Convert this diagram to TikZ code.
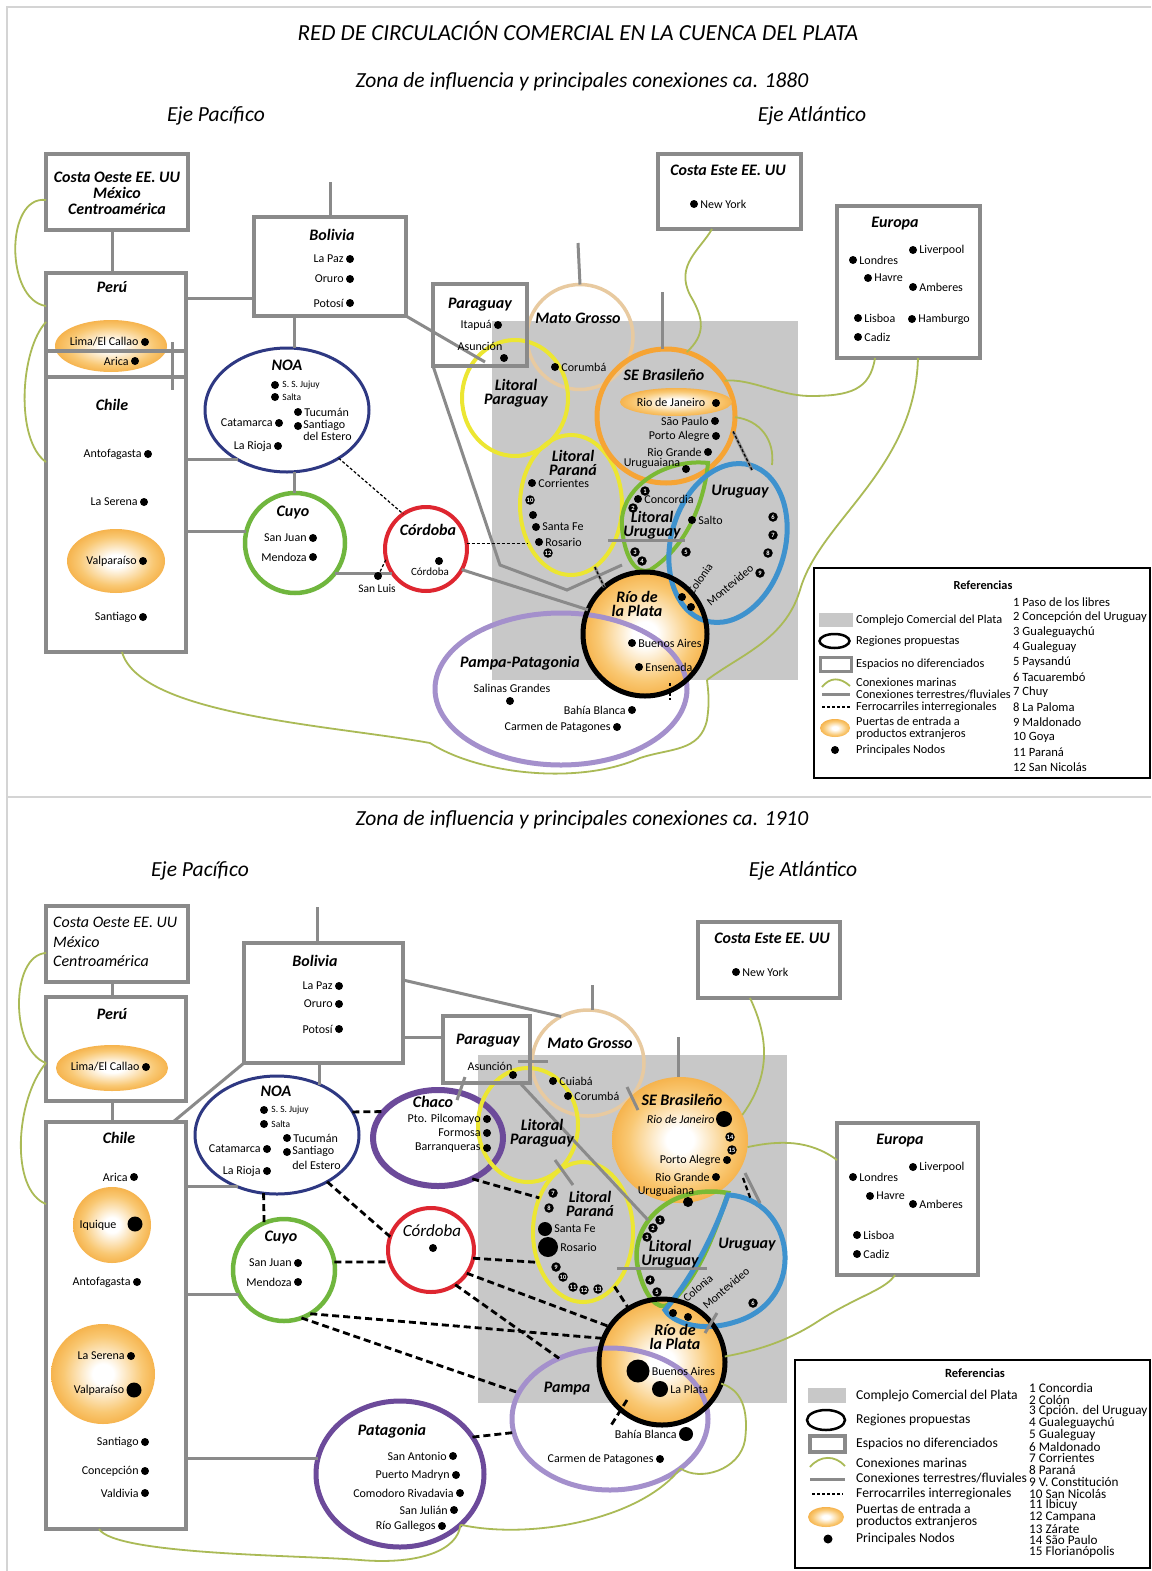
\documentclass[tikz,border=0pt]{standalone}
\usepackage{fontspec}
\setmainfont{Carlito}
\usetikzlibrary{shapes.geometric}
\newcommand{\myfs}[1]{\fontsize{#1}{#1}\selectfont}
\definecolor{boxgray}{RGB}{138,138,138}
\definecolor{cgray}{RGB}{200,200,200}
\definecolor{seagreen}{RGB}{170,186,86}
\definecolor{navy}{RGB}{46,56,130}
\definecolor{cuyog}{RGB}{112,182,62}
\definecolor{cred}{RGB}{222,38,48}
\definecolor{ylw}{RGB}{236,230,50}
\definecolor{tanc}{RGB}{232,202,160}
\definecolor{seor}{RGB}{246,164,52}
\definecolor{ublue}{RGB}{62,146,206}
\definecolor{lug}{RGB}{122,186,52}
\definecolor{lav}{RGB}{164,144,204}
\definecolor{purp}{RGB}{108,74,154}
\definecolor{gor}{RGB}{242,156,34}
\definecolor{gmid}{RGB}{249,200,115}
\definecolor{framec}{RGB}{212,212,212}
\pgfdeclareradialshading{gateshade}{\pgfpoint{0bp}{0bp}}{color(0bp)=(white); color(5bp)=(white); color(19bp)=(gmid); color(32bp)=(gor); color(50bp)=(gor)}
\tikzset{
  box/.style={draw=boxgray, line width=3.5pt, inner sep=0pt, outer sep=0pt},
  land/.style={draw=boxgray, line width=3pt},
  sea/.style={draw=seagreen, line width=1.8pt},
  rail/.style={draw=black, line width=1.2pt, dash pattern=on 3pt off 2pt},
  railb/.style={draw=black, line width=2.8pt, dash pattern=on 7pt off 4pt},
  region/.style={ellipse, inner sep=0pt, outer sep=0pt},
  gate/.style={region, shade, shading=gateshade},
  dot/.style={circle, fill=black, inner sep=0pt, minimum size=8pt},
  lbl/.style={inner sep=0pt, font=\myfs{12}},
  slbl/.style={inner sep=0pt, font=\myfs{9.5}},
  rt/.style={inner sep=0pt, align=center, font=\fontsize{16}{13.5}\selectfont\bfseries\itshape},
  badge/.style={circle, fill=black, text=white, inner sep=0pt, minimum size=9.5pt, font=\fontsize{6.5}{6.5}\selectfont\bfseries},
  ttl/.style={inner sep=0pt, font=\myfs{21.5}\itshape},
  leg/.style={inner sep=0pt, anchor=west, font=\myfs{12.3}},
  legb/.style={inner sep=0pt, anchor=west, font=\myfs{13.6}},
}
\newcommand{\dotL}[4][8]{\node[dot, minimum size=#1pt] (#2) at (#3) {};\node[lbl, anchor=east] (#2t) at ([xshift=-2pt]#2.west) {#4};}
\newcommand{\dotR}[4][8]{\node[dot, minimum size=#1pt] (#2) at (#3) {};\node[lbl, anchor=west] (#2t) at ([xshift=2pt]#2.east) {#4};}
\newcommand{\numbadge}[3]{\node[badge] (#1) at (#2) {#3};}
\begin{document}
\begin{tikzpicture}[x=1pt,y=-1pt]
\useasboundingbox (0,0) rectangle (1151,1571);
\fill[white] (0,0) rectangle (1151,1571);
\draw[framec, line width=1.2pt] (7,1571) -- (7,7) -- (1151,7);
\draw[framec, line width=1.2pt] (7,797) -- (1151,797);
\node[fill=cgray, inner sep=0pt, minimum width=306pt, minimum height=359pt] (cpx1) at (645,500.5) {};
\node[fill=cgray, inner sep=0pt, minimum width=309pt, minimum height=348pt] (cpx2) at (632.5,1229) {};

% ===== titles
\node[ttl, font=\myfs{23}\itshape] (title) at (578,31) {RED DE CIRCULACIÓN COMERCIAL EN LA CUENCA DEL PLATA};
\node[ttl] (sub1) at (582,82) {Zona de influencia y principales conexiones ca. 1880};
\node[ttl] (ejeP1) at (216,116) {Eje Pacífico};
\node[ttl] (ejeA1) at (812,116) {Eje Atlántico};
\node[ttl] (sub2) at (582,820) {Zona de influencia y principales conexiones ca. 1910};
\node[ttl] (ejeP2) at (200,871) {Eje Pacífico};
\node[ttl] (ejeA2) at (803,871) {Eje Atlántico};

% ===================== TOP PANEL (1880) =====================
\node[gate, minimum width=112pt, minimum height=52pt] (lima1) at (111,346) {};
\node[gate, minimum width=98pt, minimum height=64pt] (valp1) at (116,561) {};
\node[box, minimum width=142pt, minimum height=76pt] (costaO1) at (117,192) {};
\node[box, minimum width=140pt, minimum height=104pt] (peru1) at (116,325) {};
\node[box, minimum width=140pt, minimum height=301pt] (chile1) at (116,501.5) {};
\node[box, minimum width=152pt, minimum height=99pt] (bol1) at (330,266.5) {};
\node[box, minimum width=143pt, minimum height=75pt] (costaE1) at (729.5,191.5) {};
\node[box, minimum width=143pt, minimum height=152pt] (eur1) at (908.5,282) {};

\node[region, draw=navy, line width=3pt, minimum width=164pt, minimum height=124pt] (noa1) at (287,410) {};
\node[region, draw=cuyog, line width=4.5pt, minimum size=100pt] (cuyo1) at (295,543) {};
\node[region, draw=cred, line width=4pt, minimum width=82pt, minimum height=84pt] (cor1) at (426,549) {};
\node[region, draw=tanc, line width=3.5pt, minimum width=106pt, minimum height=105pt] (mato1) at (580,337) {};
\node[region, draw=ylw, line width=4pt, minimum width=106pt, minimum height=116pt] (lpy1) at (515,398) {};
\node[region, draw=ylw, line width=4pt, minimum width=102pt, minimum height=140pt] (lpn1) at (571,505) {};
\node[region, draw=seor, line width=5pt, minimum width=138pt, minimum height=134pt] (se1) at (666,416) {};
\node[gate, minimum width=112pt, minimum height=28pt] (rio1) at (676,402) {};
\node[gate, minimum size=124pt] (rdlp1) at (645,634) {};
\draw[lug, line width=4pt] (708,463) .. controls (665,458) and (618,488) .. (622,528) .. controls (625,560) and (637,575) .. (650,570) .. controls (685,548) and (704,505) .. (708,463) -- cycle;
\coordinate (lur1) at (660,520);
\node[region, draw=ublue, line width=5pt, minimum width=114pt, minimum height=162pt, rotate=-16] (uru1) at (728,543) {};
\node[region, draw=lav, line width=5pt, minimum width=252pt, minimum height=152pt] (pampa1) at (561,689) {};
\node[region, draw=black, line width=5pt, minimum size=124pt] (rdlp1r) at (645,634) {};
\node[box, minimum width=94pt, minimum height=82pt] (par1) at (480,325) {};

% --- top connectors
\coordinate (tickA) at (172,342); \coordinate (tickB) at (172,390);
\coordinate (bolTop1) at (330,182);
\coordinate (asuL1) at (485,362);
\coordinate (pl1a) at (500,565); \coordinate (pl1b) at (567,590); \coordinate (pl1c) at (622,565);
\coordinate (lurA1) at (608,540); \coordinate (lurB1) at (685,540);
\coordinate (matoTop1) at (578,243);
\coordinate (seTop1) at (662,292);
\coordinate (seU1) at (752,470);
\coordinate (rpA1) at (670,683); \coordinate (rpB1) at (670,700);
\coordinate (seaJ1) at (707,680);
\coordinate (seaU1) at (772,465);
\draw[land] (tickA) -- (tickB);
\draw[land] (costaO1.south -| 112,0) -- (peru1.north -| 112,0);
\draw[land] (bol1.north) -- (bolTop1);
\draw[land] (peru1.east |- 0,298) -- (bol1.west |- 0,298);
\draw[land] (bol1.south -| 294,0) -- (noa1.north -| 294,0);
\draw[land] (chile1.east |- noa1.225) -- (noa1.225);
\draw[land] (noa1.south -| 294,0) -- (cuyo1.north -| 294,0);
\draw[land] (chile1.east |- cuyo1.167) -- (cuyo1.167);
\draw[land] (cuyo1.323) -- (cuyo1.323 -| cor1.215);
\draw[land] (cor1.330) -- (rdlp1.157);
\draw[land] (bol1.south east) -- (asuL1);
\draw[land] (par1.south west) -- (pl1a) -- (pl1b) -- (pl1c);
\draw[land] (lurA1) -- (lurB1);
\draw[land] (mato1.north) -- (matoTop1);
\draw[land] (se1.north -| seTop1) -- (seTop1);
\draw[land] (se1.347) -- (seU1);
\draw[rail] (se1.347) -- (seU1);
\draw[land] (lpn1.291) -- (rdlp1.131);
\draw[rail] (lpn1.291) -- (rdlp1.131);
\draw[rail] (noa1.317) -- (cor1.123);
\draw[rail] (cor1.8) -- (cor1.8 -| lpn1.221);
\draw[rail] (rpA1) -- (rpB1);
% marine
\draw[sea] (costaO1.west |- 0,200) .. controls (5,195) and (5,300) .. (peru1.west |- 0,306);
\draw[sea] (peru1.west |- 0,322) .. controls (20,350) and (15,440) .. (chile1.west |- 0,462);
\draw[sea] (chile1.south -| 122,0) .. controls (140,715) and (330,725) .. (430,743) .. controls (480,775) and (580,785) .. (640,758) .. controls (670,748) and (700,752) .. (707,720) .. controls (710,700) and (708,690) .. (seaJ1);
\draw[sea] (eur1.south -| 918,0) .. controls (915,470) and (820,520) .. (800,590) .. controls (785,640) and (740,655) .. (seaJ1);
\draw[sea] (costaE1.south -| 712,0) .. controls (700,250) and (675,265) .. (690,295) .. controls (705,320) and (705,335) .. (se1.72);
\draw[sea] (eur1.south -| 875,0) .. controls (870,390) and (850,396) .. (810,396) .. controls (780,396) and (750,378) .. (se1.31);
\draw[sea] (se1.359) .. controls (760,420) and (775,440) .. (seaU1);

% --- top texts
\node[rt, font=\fontsize{16}{16}\selectfont\bfseries\itshape] (costaO1t) at (117,193) {Costa Oeste EE. UU\\México\\Centroamérica};
\node[rt] (peru1t) at (112,287) {Perú};
\node[rt] (chile1t) at (112,405) {Chile};
\node[rt] (bol1t) at (332,235) {Bolivia};
\node[rt] (noa1t) at (287,365) {NOA};
\node[rt] (cuyo1t) at (293,513) {Cuyo};
\node[rt] (cor1t) at (428,530) {Córdoba};
\node[rt] (par1t) at (480,305) {Paraguay};
\node[rt] (mato1t) at (578,318) {Mato Grosso};
\node[rt] (lpy1t) at (516,393) {Litoral\\Paraguay};
\node[rt] (lpn1t) at (573,463) {Litoral\\Paraná};
\node[rt] (se1t) at (664,375) {SE Brasileño};
\node[rt] (lur1t) at (652,525) {Litoral\\Uruguay};
\node[rt] (uru1t) at (740,492) {Uruguay};
\node[rt] (rdlp1t) at (637,604) {Río de\\la Plata};
\node[rt] (pampa1t) at (520,663) {Pampa-Patagonia};
\node[rt] (costaE1t) at (728,170) {Costa Este EE. UU};
\node[rt] (eur1t) at (895,224) {Europa};

\dotL{lapaz1}{350,259}{La Paz}
\dotL{oruro1}{350,279}{Oruro}
\dotL{potosi1}{350,303}{Potosí}
\dotL{lima1d}{145,342}{Lima/El Callao}
\dotL{arica1}{135,361}{Arica}
\dotL{antof1}{148,454}{Antofagasta}
\dotL{laser1}{144,502}{La Serena}
\dotL{valp1d}{143,561}{Valparaíso}
\dotL{stgo1}{143,617}{Santiago}
\node[dot] (jujuy1) at (275,385) {}; \node[slbl, anchor=west] (jujuy1t) at ([xshift=3pt]jujuy1.east) {S. S. Jujuy};
\node[dot] (salta1) at (275,397) {}; \node[slbl, anchor=west] (salta1t) at ([xshift=3pt]salta1.east) {Salta};
\dotR{tucu1}{298,412}{Tucumán}
\node[dot] (sgo1) at (298,426) {};
\node[lbl, anchor=north west, align=left, font=\fontsize{12}{11.5}\selectfont] (sgo1t) at ([xshift=1pt,yshift=6pt]sgo1.east) {Santiago\\del Estero};
\dotL{catam1}{279,423}{Catamarca}
\dotL{rioja1}{278,446}{La Rioja}
\dotL{sanjuan1}{313,538}{San Juan}
\dotL{mendoza1}{313,557}{Mendoza}
\node[dot] (cor1d) at (439,561) {}; \node[lbl, font=\myfs{11}] (cor1dt) at (430,572) {Córdoba};
\node[dot] (sl1) at (378,576) {}; \node[lbl, font=\myfs{11.5}] (sl1t) at (377,589) {San Luis};
\draw[rail] (sl1.center) -- (cor1.194);
\dotL{itapua1}{498,325}{Itapuá}
\node[dot] (asu1) at (504,358) {}; \node[lbl] (asu1t) at (480,346) {Asunción};
\dotR{corumba1}{555,367}{Corumbá}
\dotR{corr1}{532,483}{Corrientes}
\numbadge{b10a}{530,500}{10}
\node[dot] (parana1) at (533,515) {};
\dotR{stafe1}{536,527}{Santa Fe}
\dotR{rosario1}{539,542}{Rosario}
\numbadge{b12a}{548,553}{12}
\node[lbl] (rio1t) at (671,402) {Rio de Janeiro}; \node[dot] (rio1d) at (716,403) {};
\dotL{sp1}{715,421}{São Paulo}
\dotL{poa1}{716,436}{Porto Alegre}
\dotL{rg1}{708,452}{Rio Grande}
\node[lbl] (urgna1t) at (652,463) {Uruguaiana}; \node[dot] (urgna1) at (686,469) {};
\numbadge{b1a}{645,491}{1}
\dotR{conc1}{638,499}{Concordia}
\numbadge{b2a}{633,508}{2}
\numbadge{b3a}{635,552}{3}
\numbadge{b4a}{642,561}{4}
\numbadge{b5a}{686,552}{5}
\dotR{salto1}{692,520}{Salto}
\numbadge{b6a}{773,517}{6}
\numbadge{b7a}{773,535}{7}
\numbadge{b8a}{768,553}{8}
\numbadge{b9a}{760,573}{9}
\node[lbl, font=\myfs{11.5}, rotate=55] (colonia1t) at (700,579) {Colonia};
\node[lbl, font=\myfs{11.5}, rotate=40] (mvd1t) at (730,585) {Montevideo};
\node[dot] (colonia1) at (682,597) {}; \node[dot] (mvd1) at (691,607) {};
\dotR{ba1}{632,643}{Buenos Aires}
\dotR{ens1}{639,667}{Ensenada}
\node[dot] (salinas1) at (510,701) {}; \node[lbl] (salinas1t) at (512,688) {Salinas Grandes};
\dotL{bb1}{632,710}{Bahía Blanca}
\dotL{cp1}{617,727}{Carmen de Patagones}
\dotR{ny1}{694,204}{New York}
\dotR{lond1}{853,260}{Londres}
\dotR{liv1}{913,250}{Liverpool}
\dotR{havre1}{868,278}{Havre}
\dotR{amb1}{913,287}{Amberes}
\dotR{lis1}{858,318}{Lisboa}
\dotR{ham1}{912,319}{Hamburgo}
\dotR{cad1}{858,337}{Cadiz}

% --- top legend
\node[draw=black, line width=1.5pt, inner sep=0pt, minimum width=336pt, minimum height=210pt] (leg1) at (982,673) {};
\node[inner sep=0pt, font=\myfs{12.3}\bfseries] (ref1) at (983,585) {Referencias};
\fill[cgray] (819,613) rectangle (853,627);
\draw[black, line width=2.5pt] (834.5,641) ellipse [x radius=15pt, y radius=7pt];
\draw[boxgray, line width=3pt] (820,657) rectangle (851,671);
\draw[seagreen, line width=1.8pt] (822,687) .. controls (830,677) and (840,677) .. (850,686);
\draw[boxgray, line width=3pt] (822,694) -- (850,694);
\draw[black, line width=1.2pt, dash pattern=on 3pt off 2pt] (822,707) -- (850,707);
\shade[shading=gateshade] (835,728) ellipse [x radius=15pt, y radius=9pt];
\fill[black] (835,750) circle [radius=4pt];
\node[leg] (lg1a) at (856,620) {Complejo Comercial del Plata};
\node[leg] (lg1b) at (856,641) {Regiones propuestas};
\node[leg] (lg1c) at (856,664) {Espacios no diferenciados};
\node[leg] (lg1d) at (856,682) {Conexiones marinas};
\node[leg] (lg1e) at (856,694) {Conexiones terrestres/fluviales};
\node[leg] (lg1f) at (856,707) {Ferrocarriles interregionales};
\node[leg, align=left, font=\fontsize{12.3}{12}\selectfont] (lg1g) at (856,728) {Puertas de entrada a\\productos extranjeros};
\node[leg] (lg1h) at (856,750) {Principales Nodos};
\foreach \t [count=\i] in {Paso de los libres, Concepción del Uruguay, Gualeguaychú, Gualeguay, Paysandú, Tacuarembó, Chuy, La Paloma, Maldonado, Goya, Paraná, San Nicolás}
  \node[leg, font=\myfs{12.6}] (nl1-\i) at (1013,{587+15*\i}) {\i{} \t};

% ===================== BOTTOM PANEL (1910) =====================
\node[gate, minimum width=112pt, minimum height=46pt] (lima2) at (112,1068) {};
\node[gate, minimum width=78pt, minimum height=76pt] (iqq2) at (112,1225) {};
\node[gate, minimum width=104pt, minimum height=100pt] (valp2) at (103,1374) {};
\node[box, minimum width=142pt, minimum height=76pt] (costaO2) at (117,944) {};
\node[box, minimum width=140pt, minimum height=104pt] (peru2) at (116,1049) {};
\node[box, minimum width=140pt, minimum height=407pt] (chile2) at (116,1325.5) {};
\node[box, minimum width=159pt, minimum height=120pt] (bol2) at (323.5,1003) {};
\node[box, minimum width=142pt, minimum height=76pt] (costaE2) at (769,960) {};
\node[box, minimum width=141pt, minimum height=152pt] (eur2) at (907.5,1199) {};

\node[region, draw=navy, line width=3pt, minimum width=164pt, minimum height=118pt] (noa2) at (277,1135) {};
\node[region, draw=purp, line width=6pt, minimum width=130pt, minimum height=96pt] (chaco2) at (438,1138) {};
\node[region, draw=cuyog, line width=4.5pt, minimum size=102pt] (cuyo2) at (284,1270) {};
\node[region, draw=cred, line width=4pt, minimum width=86pt, minimum height=84pt] (cor2) at (431,1250) {};
\node[region, draw=purp, line width=5pt, minimum width=168pt, minimum height=146pt] (patag2) at (400,1474) {};
\node[region, draw=tanc, line width=3.5pt, minimum width=112pt, minimum height=106pt] (mato2) at (588,1063) {};
\node[region, draw=ylw, line width=4pt, minimum width=100pt, minimum height=114pt] (lpy2) at (528,1125) {};
\node[region, draw=ylw, line width=4pt, minimum width=100pt, minimum height=140pt] (lpn2) at (583,1232) {};
\node[gate, minimum width=136pt, minimum height=126pt] (se2) at (680,1140) {};
\node[gate, minimum size=126pt] (rdlp2) at (662,1362) {};
\draw[lug, line width=4.5pt] (728,1193) .. controls (670,1183) and (628,1225) .. (638,1268) .. controls (645,1298) and (658,1310) .. (668,1305) .. controls (695,1282) and (713,1240) .. (728,1193) -- cycle;
\coordinate (lur2) at (675,1250);
\draw[ublue, line width=5pt] (728,1195) .. controls (795,1198) and (810,1300) .. (735,1322) .. controls (700,1333) and (672,1322) .. (665,1310) .. controls (690,1280) and (712,1240) .. (728,1195) -- cycle;
\coordinate (uru2) at (740,1260);
\node[region, draw=lav, line width=5pt, minimum width=196pt, minimum height=142pt] (pampa2) at (610,1419) {};
\node[region, draw=black, line width=5pt, minimum size=126pt] (rdlp2r) at (662,1362) {};
\node[box, minimum width=87pt, minimum height=67pt] (par2) at (486.5,1049.5) {};

% --- bottom connectors
\coordinate (bolTop2) at (317,907);
\coordinate (pcA) at (465,1077); \coordinate (pcB) at (457,1100);
\coordinate (phA) at (518,1061); \coordinate (phB) at (548,1061);
\coordinate (lurC2) at (648,1220);
\coordinate (llA) at (555,1160); \coordinate (llB) at (573,1185);
\coordinate (matoTop2) at (592,985);
\coordinate (seTop2) at (678,1037);
\coordinate (msA) at (627,1087); \coordinate (msB) at (638,1110);
\coordinate (suA) at (745,1173); \coordinate (suB) at (760,1203);
\coordinate (sdA) at (743,1178); \coordinate (sdB) at (751,1200);
\coordinate (luA) at (617,1268); \coordinate (luB) at (707,1268);
\coordinate (urA) at (717,1313); \coordinate (urB) at (705,1333);
\coordinate (pdA) at (627,1400); \coordinate (pdB) at (610,1427);
\draw[land] (costaO2.south -| 112,0) -- (peru2.north -| 112,0);
\draw[land] (peru2.south -| 112,0) -- (chile2.north -| 112,0);
\draw[land] (bol2.north -| bolTop2) -- (bolTop2);
\draw[land] (bol2.east |- 0,980) -- (mato2.120);
\draw[land] (bol2.east |- 0,1037) -- (par2.west |- 0,1037);
\draw[land] (bol2.south west) -- (chile2.north -| 173,0);
\draw[land] (bol2.south -| noa2.50) -- (noa2.50);
\draw[land] (chile2.east |- noa2.233) -- (noa2.233);
\draw[land] (chile2.east |- cuyo2.209) -- (cuyo2.209);
\draw[land] (chile2.east |- patag2.169) -- (patag2.169);
\draw[land] (pcA) -- (pcB);
\draw[land] (phA) -- (phB);
\draw[land] (par2.south -| 520,0) -- (lurC2);
\draw[land] (llA) -- (llB);
\draw[land] (mato2.north -| matoTop2) -- (matoTop2);
\draw[land] (se2.north -| seTop2) -- (seTop2);
\draw[land] (msA) -- (msB);
\draw[land] (suA) -- (suB);
\draw[black, line width=2.2pt, dash pattern=on 5pt off 3pt] (sdA) -- (sdB);
\draw[land] (luA) -- (luB);
\draw[land] (urA) -- (urB);
\draw[railb] (noa2.257) -- (cuyo2.113);
\draw[railb] (noa2.17) -- (chaco2.154);
\draw[railb] (noa2.317) -- (cor2.162);
\draw[railb] (cuyo2.9) -- (cor2.196);
\draw[railb] (cuyo2.301) -- (rdlp2.158);
\draw[railb] (cuyo2.290) -- (pampa2.164);
\draw[railb] (cor2.349) -- (lpn2.214);
\draw[railb] (cor2.327) -- (rdlp2.146);
\draw[railb] (cor2.305) -- (pampa2.130);
\draw[railb] (chaco2.310) -- (lpn2.142);
\draw[railb] (patag2.27) -- (pampa2.188);
\draw[railb] (lpn2.300) -- (rdlp2.122);
\draw[railb] (pdA) -- (pdB);
% marine
\draw[sea] (costaO2.west |- 0,953) .. controls (10,955) and (10,1050) .. (peru2.west |- 0,1063);
\draw[sea] (peru2.west |- 0,1063) .. controls (15,1100) and (10,1190) .. (chile2.west |- 0,1204);
\draw[sea] (chile2.south -| 99,0) .. controls (115,1555) and (300,1555) .. (360,1560) .. controls (420,1565) and (458,1550) .. (patag2.320);
\draw[sea] (patag2.320) .. controls (530,1540) and (640,1520) .. (pampa2.325);
\draw[sea] (pampa2.325) .. controls (700,1482) and (740,1470) .. (745,1440) .. controls (750,1400) and (735,1388) .. (rdlp2.340);
\draw[sea] (rdlp2.5) .. controls (760,1350) and (790,1340) .. (820,1320) .. controls (860,1295) and (885,1290) .. (eur2.south -| 895,0);
\draw[sea] (se2.354) .. controls (780,1140) and (810,1140) .. (eur2.west |- 0,1160);
\draw[sea] (costaE2.south -| 750,0) .. controls (765,1030) and (775,1070) .. (se2.22);

% --- bottom texts
\node[inner sep=0pt, anchor=north west, align=left, font=\fontsize{16}{19.5}\selectfont\itshape] (costaO2t) at (53,917) {Costa Oeste EE. UU\\México\\Centroamérica};
\node[rt] (peru2t) at (112,1014) {Perú};
\node[rt] (chile2t) at (119,1138) {Chile};
\node[rt] (bol2t) at (315,961) {Bolivia};
\node[rt] (noa2t) at (276,1091) {NOA};
\node[rt] (chaco2t) at (433,1102) {Chaco};
\node[rt] (cuyo2t) at (281,1237) {Cuyo};
\node[inner sep=0pt, font=\myfs{17}\itshape] (cor2t) at (432,1231) {Córdoba};
\node[rt] (patag2t) at (392,1431) {Patagonia};
\node[rt] (par2t) at (488,1041) {Paraguay};
\node[rt] (mato2t) at (590,1043) {Mato Grosso};
\node[rt] (lpy2t) at (542,1133) {Litoral\\Paraguay};
\node[rt] (lpn2t) at (590,1204) {Litoral\\Paraná};
\node[rt] (se2t) at (682,1100) {SE Brasileño};
\node[rt] (lur2t) at (670,1254) {Litoral\\Uruguay};
\node[rt] (uru2t) at (747,1245) {Uruguay};
\node[rt] (rdlp2t) at (675,1337) {Río de\\la Plata};
\node[rt] (pampa2t) at (567,1389) {Pampa};
\node[rt] (costaE2t) at (772,938) {Costa Este EE. UU};
\node[rt] (eur2t) at (900,1141) {Europa};

\dotL{lima2d}{146,1067}{Lima/El Callao}
\dotL{arica2}{134,1177}{Arica}
\node[dot, minimum size=15pt] (iqq2d) at (135,1224) {}; \node[lbl] (iqq2t) at (98,1225) {Iquique};
\dotL{antof2}{137,1282}{Antofagasta}
\dotL{laser2}{131,1356}{La Serena}
\dotL[15]{valp2d}{134,1390}{Valparaíso}
\dotL{stgo2}{145,1442}{Santiago}
\dotL{conce2}{145,1471}{Concepción}
\dotL{valdi2}{145,1493}{Valdivia}
\dotL{lapaz2}{339,986}{La Paz}
\dotL{oruro2}{339,1004}{Oruro}
\dotL{potosi2}{339,1029}{Potosí}
\node[dot] (jujuy2) at (264,1110) {}; \node[slbl, anchor=west] (jujuy2t) at ([xshift=3pt]jujuy2.east) {S. S. Jujuy};
\node[dot] (salta2) at (264,1124) {}; \node[slbl, anchor=west] (salta2t) at ([xshift=3pt]salta2.east) {Salta};
\dotR{tucu2}{287,1138}{Tucumán}
\node[dot] (sgo2) at (287,1152) {};
\node[lbl, anchor=north west, align=left, font=\fontsize{12}{14.5}\selectfont] (sgo2t) at ([xshift=1pt,yshift=6pt]sgo2.east) {Santiago\\del Estero};
\dotL{catam2}{267,1149}{Catamarca}
\dotL{rioja2}{267,1171}{La Rioja}
\dotL{pilco2}{487,1119}{Pto. Pilcomayo}
\dotL{formosa2}{487,1133}{Formosa}
\dotL{barra2}{487,1148}{Barranqueras}
\dotL{sanjuan2}{298,1263}{San Juan}
\dotL{mendoza2}{298,1282}{Mendoza}
\node[dot] (cor2d) at (433,1248) {};
\dotL{sanant2}{453,1456}{San Antonio}
\dotL{madryn2}{456,1475}{Puerto Madryn}
\dotL{comod2}{460,1493}{Comodoro Rivadavia}
\dotL{julian2}{454,1510}{San Julián}
\dotL{galle2}{442,1526}{Río Gallegos}
\node[dot] (asu2) at (513,1075) {}; \node[lbl] (asu2t) at (490,1066) {Asunción};
\dotR{cuiaba2}{553,1081}{Cuiabá}
\dotR{corumba2}{568,1096}{Corumbá}
\node[dot, minimum size=16pt] (rio2d) at (724,1119) {};
\node[lbl, font=\myfs{12}\itshape, anchor=east] (rio2t) at ([xshift=-1pt]rio2d.west) {Rio de Janeiro};
\numbadge{b14}{730,1137}{14}
\numbadge{b15}{732,1150}{15}
\dotL{poa2}{727,1160}{Porto Alegre}
\dotL{rg2}{716,1177}{Rio Grande}
\node[lbl] (urgna2t) at (666,1191) {Uruguaiana}; \node[dot, minimum size=10pt] (urgna2) at (688,1202) {};
\numbadge{b7}{553,1193}{7}
\numbadge{b8}{549,1208}{8}
\dotR[14]{stafe2}{545,1229}{Santa Fe}
\dotR[20]{rosario2}{548,1247}{Rosario}
\numbadge{b9}{556,1267}{9}
\numbadge{b10}{563,1277}{10}
\numbadge{b11}{573,1287}{11}
\numbadge{b12}{584,1290}{12}
\numbadge{b13}{598,1289}{13}
\numbadge{b1}{660,1220}{1}
\numbadge{b2}{653,1228}{2}
\numbadge{b3}{647,1237}{3}
\numbadge{b4}{650,1280}{4}
\numbadge{b5}{657,1292}{5}
\numbadge{b6}{753,1303}{6}
\node[lbl, font=\myfs{11.5}, rotate=40] (colonia2t) at (698,1288) {Colonia};
\node[lbl, font=\myfs{11.5}, rotate=40] (mvd2t) at (726,1288) {Montevideo};
\node[dot] (colonia2) at (673,1313) {}; \node[dot] (mvd2) at (688,1317) {};
\dotR[23]{ba2}{638,1371}{Buenos Aires}
\dotR[16]{lp2}{660,1389}{La Plata}
\dotL[14]{bb2}{686,1434}{Bahía Blanca}
\dotL{cp2}{660,1459}{Carmen de Patagones}
\dotR{ny2}{736,972}{New York}
\dotR{liv2}{913,1167}{Liverpool}
\dotR{lond2}{853,1177}{Londres}
\dotR{havre2}{870,1196}{Havre}
\dotR{amb2}{913,1204}{Amberes}
\dotR{lis2}{857,1235}{Lisboa}
\dotR{cad2}{857,1254}{Cadiz}

% --- bottom legend
\node[draw=black, line width=1.5pt, inner sep=0pt, minimum width=355pt, minimum height=208pt] (leg2) at (972.5,1464) {};
\node[inner sep=0pt, font=\myfs{12.5}\bfseries] (ref2) at (975,1373) {Referencias};
\fill[cgray] (808,1388) rectangle (846,1403);
\draw[black, line width=2.5pt] (826,1420) ellipse [x radius=19pt, y radius=10pt];
\draw[boxgray, line width=3.5pt] (810,1436) rectangle (845,1452);
\draw[seagreen, line width=1.8pt] (810,1467) .. controls (820,1455) and (835,1455) .. (845,1466);
\draw[boxgray, line width=3pt] (810,1479) -- (845,1479);
\draw[black, line width=1.2pt, dash pattern=on 3pt off 2pt] (812,1494) -- (843,1494);
\shade[shading=gateshade] (826,1517) ellipse [x radius=18pt, y radius=10pt];
\fill[black] (828,1539) circle [radius=4.5pt];
\node[legb] (lg2a) at (856,1396) {Complejo Comercial del Plata};
\node[legb] (lg2b) at (856,1420) {Regiones propuestas};
\node[legb] (lg2c) at (856,1444) {Espacios no diferenciados};
\node[legb] (lg2d) at (856,1463) {Conexiones marinas};
\node[legb] (lg2e) at (856,1478) {Conexiones terrestres/fluviales};
\node[legb] (lg2f) at (856,1494) {Ferrocarriles interregionales};
\node[legb, align=left, font=\fontsize{13.6}{12.5}\selectfont] (lg2g) at (856,1516) {Puertas de entrada a\\productos extranjeros};
\node[legb] (lg2h) at (856,1539) {Principales Nodos};
\foreach \t [count=\i] in {Concordia, Colón, Cpción. del Uruguay, Gualeguaychú, Gualeguay, Maldonado, Corrientes, Paraná, V. Constitución, San Nicolás, Ibicuy, Campana, Zárate, São Paulo, Florianópolis}
  \node[inner sep=0pt, anchor=west, font=\myfs{13.2}] (nl2-\i) at (1029,{1376.3+11.72*\i}) {\i{} \t};
\end{tikzpicture}
\end{document}
